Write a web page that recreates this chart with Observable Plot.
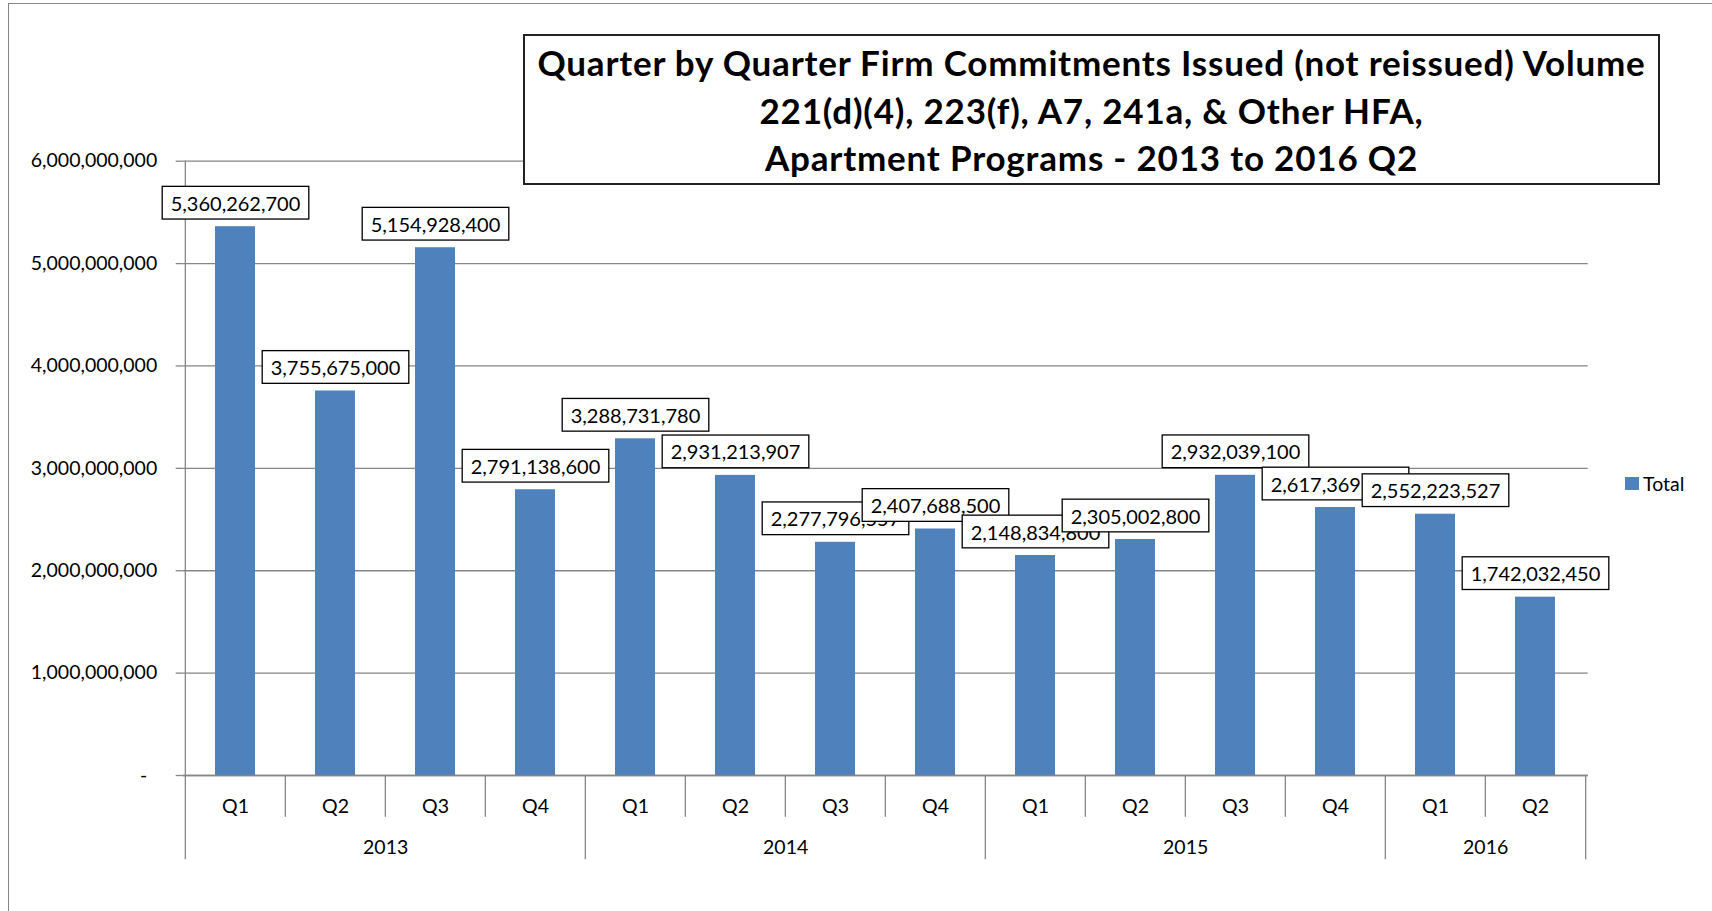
<!DOCTYPE html>
<html>
<head>
<meta charset="utf-8">
<script src="https://cdn.jsdelivr.net/npm/d3@7"></script>
<script src="https://cdn.jsdelivr.net/npm/@observablehq/plot@0.6"></script>
<style>
  html, body { margin: 0; padding: 0; background: #fff; }
  #wrap { position: relative; width: 1712px; height: 911px; overflow: hidden; font-family: Lato, "Open Sans", sans-serif; }
  #border { position: absolute; left: 8px; top: 3px; width: 3000px; height: 3000px; border: 1.5px solid #868686; box-sizing: border-box; }
  #chart { position: absolute; left: 0; top: 0; }
  #title { position: absolute; left: 523px; top: 34px; width: 1137px; height: 151px; box-sizing: border-box;
           border: 2px solid #222; background: #fff; text-align: center; font-weight: 700; font-size: 35px;
           letter-spacing: 0.8px; line-height: 47.5px; padding-top: 3px; color: #000; white-space: nowrap; }
  #legend { position: absolute; left: 1625px; top: 472px; display: flex; align-items: center; font-size: 19.5px; color: #000; }
  #legend .sw { width: 14px; height: 13.5px; background: #4F81BD; margin-right: 4px; }
</style>
</head>
<body>
<div id="wrap">
  <div id="border"></div>
  <div id="chart"></div>
  <div id="title">Quarter by Quarter Firm Commitments Issued (not reissued) Volume<br>221(d)(4), 223(f), A7, 241a, &amp; Other HFA,<br>Apartment Programs - 2013 to 2016 Q2</div>
  <div id="legend"><div class="sw"></div><div>Total</div></div>
</div>
<script>
// ---- data ----
const years    = ["2013","2013","2013","2013","2014","2014","2014","2014","2015","2015","2015","2015","2016","2016"];
const quarters = ["Q1","Q2","Q3","Q4","Q1","Q2","Q3","Q4","Q1","Q2","Q3","Q4","Q1","Q2"];
const totals   = [5360262700, 3755675000, 5154928400, 2791138600,
                  3288731780, 2931213907, 2277796557, 2407688500,
                  2148834800, 2305002800, 2932039100, 2617369400,
                  2552223527, 1742032450];
const yTicks   = [0, 1e9, 2e9, 3e9, 4e9, 5e9, 6e9];

// ---- table ----
const data = totals.map((v, i) => ({key: years[i] + " " + quarters[i], year: years[i], quarter: quarters[i], value: v, i}));
const keys = data.map(d => d.key);

// ---- layout ----
const W = 1712, H = 911;
const mL = 182.7, mR = 124.3, mT = 160.7, mB = 136;
const step = (W - mL - mR) / keys.length;
const pxPerUnit = (H - mT - mB) / 6e9;
const qDepth = -41.7 / pxPerUnit;
const yDepth = -84.3 / pxPerUnit;
const grey = "#868686";
const fmt = d3.format(",");

const yearStarts = data.filter(d => d.i === 0 || years[d.i] !== years[d.i - 1]);
const quarterInner = data.filter(d => d.i > 0 && years[d.i] === years[d.i - 1]);
const yearMids = d3.groups(data, d => d.year).map(([y, arr]) => arr[arr.length / 2 - 1]);
const lastItem = data[data.length - 1];

const plot = Plot.plot({
  width: W, height: H,
  marginLeft: mL, marginRight: mR, marginTop: mT, marginBottom: mB,
  style: {fontFamily: "Lato, 'Open Sans', sans-serif", fontSize: "19.5px", color: "#000", background: "transparent", overflow: "visible"},
  x: {domain: keys, paddingInner: 0.6, paddingOuter: 0.3, axis: null},
  y: {domain: [0, 6e9], axis: null},
  marks: [
    Plot.gridY(yTicks, {stroke: grey, strokeOpacity: 1, strokeWidth: 1.3}),
    Plot.axisY(yTicks, {tickSize: 7, tickPadding: 19, stroke: grey, strokeWidth: 1.3, fill: "#000", label: null,
      tickFormat: d => d === 0 ? "-\u00a0\u00a0" : fmt(d), fontSize: 19.5}),
    // axis / category dividers
    Plot.ruleX([data[0]], {x: "key", dx: -step / 2, y1: 6e9, y2: yDepth, stroke: grey, strokeWidth: 1.3}),
    Plot.ruleX(yearStarts.slice(1), {x: "key", dx: -step / 2, y1: 0, y2: yDepth, stroke: grey, strokeWidth: 1.3}),
    Plot.ruleX([lastItem], {x: "key", dx: step / 2, y1: 0, y2: yDepth, stroke: grey, strokeWidth: 1.3}),
    Plot.ruleX(quarterInner, {x: "key", dx: -step / 2, y1: 0, y2: qDepth, stroke: grey, strokeWidth: 1.3}),
    Plot.barY(data, {x: "key", y: "value", fill: "#4F81BD"}),
    Plot.ruleY([0], {stroke: grey, strokeWidth: 1.3}),
    Plot.text(data, {x: "key", y: 0, text: "quarter", dy: 31, lineAnchor: "middle", fill: "#000", fontSize: 19.5}),
    Plot.text(yearMids, {x: "key", y: 0, text: "year", dx: step / 2, dy: 72, lineAnchor: "middle", fill: "#000", fontSize: 19.5}),
    Plot.text(data, {x: "key", y: "value", text: d => fmt(d.value), dy: -22.4, lineAnchor: "middle",
      fill: "#000", fontSize: 20, className: "dlabel"})
  ]
});

document.getElementById("chart").append(plot);

// draw a bordered box behind every data label, in order, so later labels cover earlier ones
const groups = plot.querySelectorAll('g[aria-label="text"]');
const labelGroup = plot.querySelector("g.dlabel") || groups[groups.length - 1];
labelGroup.querySelectorAll("text").forEach(t => {
  const b = t.getBBox();
  const cy = b.y + b.height / 2;
  const r = document.createElementNS("http://www.w3.org/2000/svg", "rect");
  r.setAttribute("x", b.x - 8.5);
  r.setAttribute("y", cy - 16.35);
  r.setAttribute("width", b.width + 17);
  r.setAttribute("height", 32.7);
  r.setAttribute("fill", "#fff");
  r.setAttribute("stroke", "#000");
  r.setAttribute("stroke-width", 1.3);
  if (t.getAttribute("transform")) r.setAttribute("transform", t.getAttribute("transform"));
  t.parentNode.insertBefore(r, t);
});
</script>
</body>
</html>
